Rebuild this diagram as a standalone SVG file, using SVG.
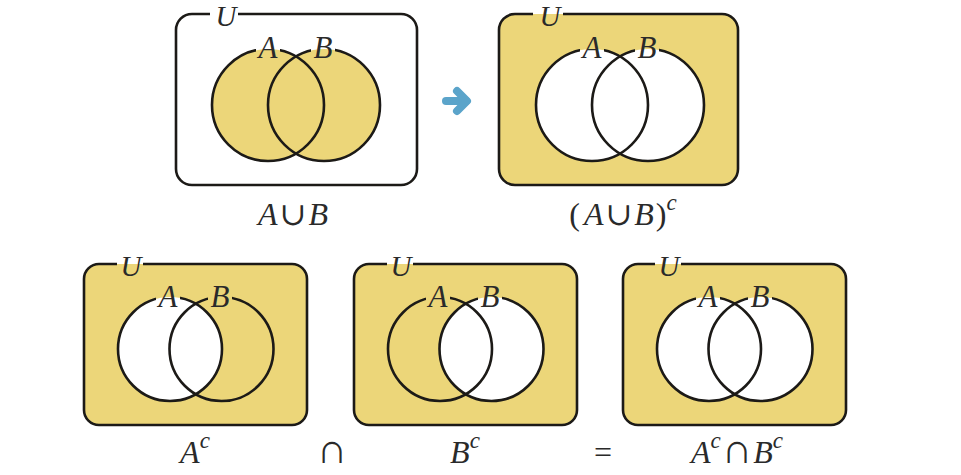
<svg xmlns="http://www.w3.org/2000/svg" width="961" height="475" viewBox="0 0 961 475">
<style>
.box{stroke:#1c1a17;stroke-width:2.6;fill:none}
.ln{stroke:#1c1a17;stroke-width:2.6;fill:none}
.y{fill:#ecd679}
.w{fill:#ffffff}
.t{font-family:"Liberation Serif","DejaVu Serif",serif;font-size:31px;fill:#2a2a2a;text-anchor:middle}
.c{font-size:32px}
.u{font-size:29px}
.i{font-style:italic}
.op{font-size:32px;font-style:normal}
.cap{font-size:42px;font-style:normal}
.sup{font-size:23px;font-style:italic}
.arr{stroke:#5ba4ca;stroke-width:8;stroke-linecap:round;stroke-linejoin:round;fill:none}
</style>
<defs>
<mask id="m1" maskUnits="userSpaceOnUse" x="0" y="0" width="961" height="475">
<rect width="961" height="475" fill="#fff"/>
<rect x="210" y="6" width="28" height="16" fill="#000"/>
<rect x="256" y="38" width="24" height="20" fill="#000"/>
<rect x="311" y="38" width="24" height="20" fill="#000"/>
</mask>
<mask id="m2" maskUnits="userSpaceOnUse" x="0" y="0" width="961" height="475">
<rect width="961" height="475" fill="#fff"/>
<rect x="533" y="6" width="30" height="16" fill="#000"/>
<rect x="580" y="38" width="24" height="20" fill="#000"/>
<rect x="635" y="38" width="24" height="20" fill="#000"/>
</mask>
<mask id="m3" maskUnits="userSpaceOnUse" x="0" y="0" width="961" height="475">
<rect width="961" height="475" fill="#fff"/>
<rect x="117" y="256" width="26" height="16" fill="#000"/>
<rect x="156" y="288" width="24" height="19" fill="#000"/>
<rect x="208" y="288" width="24" height="19" fill="#000"/>
</mask>
<mask id="m4" maskUnits="userSpaceOnUse" x="0" y="0" width="961" height="475">
<rect width="961" height="475" fill="#fff"/>
<rect x="387" y="256" width="26" height="16" fill="#000"/>
<rect x="426" y="288" width="24" height="19" fill="#000"/>
<rect x="478" y="288" width="24" height="19" fill="#000"/>
</mask>
<mask id="m5" maskUnits="userSpaceOnUse" x="0" y="0" width="961" height="475">
<rect width="961" height="475" fill="#fff"/>
<rect x="655" y="256" width="26" height="16" fill="#000"/>
<rect x="696" y="288" width="24" height="19" fill="#000"/>
<rect x="748" y="288" width="24" height="19" fill="#000"/>
</mask>
</defs>
<rect width="961" height="475" fill="#ffffff"/>

<g id="union">
<rect x="176" y="14" width="241" height="171" rx="16" class="w"/>
<circle cx="268" cy="105" r="56" class="y"/>
<circle cx="324" cy="105" r="56" class="y"/>
<g mask="url(#m1)">
<rect x="176" y="14" width="241" height="171" rx="16" class="box"/>
<circle cx="268" cy="105" r="56" class="ln"/>
<circle cx="324" cy="105" r="56" class="ln"/>
</g>
<text x="226" y="26" class="t i u">U</text>
<text x="268" y="58" class="t i">A</text>
<text x="323" y="58" class="t i">B</text>
<text x="293" y="225" class="t c"><tspan class="i">A</tspan><tspan class="op" dx="2">∪</tspan><tspan class="i" dx="2">B</tspan></text>
</g>

<g id="union-complement">
<rect x="499" y="14" width="239" height="171" rx="16" class="y"/>
<circle cx="592" cy="105" r="56" class="w"/>
<circle cx="648" cy="105" r="56" class="w"/>
<g mask="url(#m2)">
<rect x="499" y="14" width="239" height="171" rx="16" class="box"/>
<circle cx="592" cy="105" r="56" class="ln"/>
<circle cx="648" cy="105" r="56" class="ln"/>
</g>
<text x="550" y="26" class="t i u">U</text>
<text x="592" y="58" class="t i">A</text>
<text x="647" y="58" class="t i">B</text>
<text x="623" y="225" class="t c">(<tspan class="i" dx="4">A</tspan><tspan class="op" dx="2">∪</tspan><tspan class="i" dx="2">B</tspan><tspan dx="2">)</tspan><tspan class="sup" dy="-15">c</tspan></text>
</g>

<g id="a-complement">
<rect x="84" y="264" width="223" height="161" rx="15" class="y"/>
<circle cx="170" cy="349" r="52" class="w"/>
<g mask="url(#m3)">
<rect x="84" y="264" width="223" height="161" rx="15" class="box"/>
<circle cx="170" cy="349" r="52" class="ln"/>
<circle cx="221.5" cy="349" r="52" class="ln"/>
</g>
<text x="131" y="276" class="t i u">U</text>
<text x="168" y="307" class="t i">A</text>
<text x="220" y="307" class="t i">B</text>
<text x="195" y="463" class="t c"><tspan class="i">A</tspan><tspan class="sup" dy="-15">c</tspan></text>
</g>

<g id="b-complement">
<rect x="354" y="264" width="223" height="161" rx="15" class="y"/>
<circle cx="491.5" cy="349" r="52" class="w"/>
<g mask="url(#m4)">
<rect x="354" y="264" width="223" height="161" rx="15" class="box"/>
<circle cx="440" cy="349" r="52" class="ln"/>
<circle cx="491.5" cy="349" r="52" class="ln"/>
</g>
<text x="401" y="276" class="t i u">U</text>
<text x="438" y="307" class="t i">A</text>
<text x="490" y="307" class="t i">B</text>
<text x="465" y="463" class="t c"><tspan class="i">B</tspan><tspan class="sup" dy="-15">c</tspan></text>
</g>

<g id="intersection-of-complements">
<rect x="623" y="264" width="223" height="161" rx="15" class="y"/>
<circle cx="709" cy="349" r="52" class="w"/>
<circle cx="760.5" cy="349" r="52" class="w"/>
<g mask="url(#m5)">
<rect x="623" y="264" width="223" height="161" rx="15" class="box"/>
<circle cx="709" cy="349" r="52" class="ln"/>
<circle cx="760.5" cy="349" r="52" class="ln"/>
</g>
<text x="669" y="276" class="t i u">U</text>
<text x="708" y="307" class="t i">A</text>
<text x="760" y="307" class="t i">B</text>
<text x="737" y="463" class="t c"><tspan class="i">A</tspan><tspan class="sup" dy="-15">c</tspan><tspan class="cap" dy="15" dx="1">∩</tspan><tspan class="i" dx="1">B</tspan><tspan class="sup" dy="-15">c</tspan></text>
</g>

<g id="operators">
<text x="332" y="463" class="t cap">∩</text>
<text x="603" y="463" class="t c">=</text>
</g>

<g id="connectors">
<path d="M446 101 H466" class="arr"/>
<path d="M457 91 L467 101 L457 111" class="arr"/>
</g>
</svg>
